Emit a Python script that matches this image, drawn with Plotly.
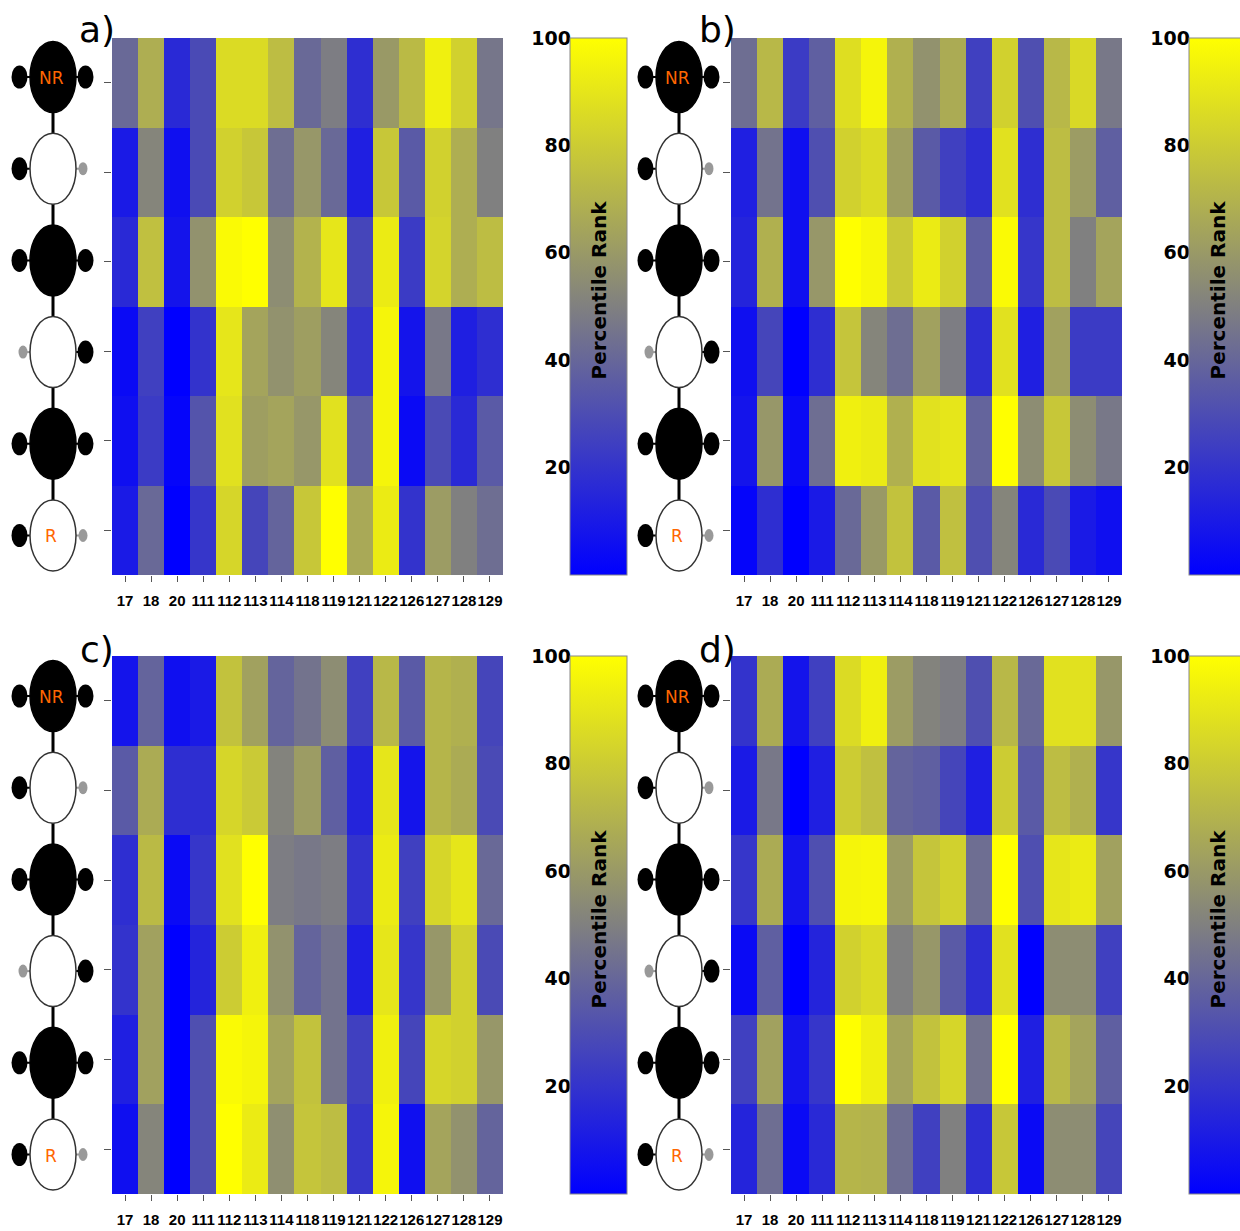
import plotly.graph_objects as go

W, H = 1240, 1231

positions = ["17", "18", "20", "111", "112", "113", "114", "118", "119",
             "121", "122", "126", "127", "128", "129"]
rows = [1, 2, 3, 4, 5, 6]
tick_values = [20, 40, 60, 80, 100]
panel_labels = ["a)", "b)", "c)", "d)"]
colorbar_title = "Percentile Rank"

panel_a = [
    [41, 68, 16, 29, 86, 86, 74, 41, 49, 18, 60, 73, 94, 82, 46],
    [10, 52, 6, 29, 82, 78, 43, 59, 41, 12, 78, 35, 82, 68, 50],
    [16, 75, 8, 57, 98, 100, 55, 70, 90, 27, 92, 23, 83, 68, 74],
    [4, 25, 0, 20, 90, 64, 57, 62, 52, 21, 96, 8, 47, 12, 18],
    [6, 23, 2, 33, 88, 62, 64, 59, 88, 37, 96, 4, 29, 16, 35],
    [10, 41, 0, 21, 84, 27, 39, 78, 100, 66, 92, 20, 61, 50, 43],
]
panel_b = [
    [43, 72, 23, 37, 87, 96, 69, 57, 67, 25, 82, 31, 72, 85, 47],
    [12, 45, 6, 31, 82, 86, 62, 35, 25, 18, 88, 18, 74, 61, 37],
    [14, 69, 6, 59, 100, 97, 79, 92, 82, 37, 98, 21, 74, 50, 64],
    [6, 27, 0, 18, 77, 52, 43, 63, 49, 18, 88, 12, 63, 23, 23],
    [8, 59, 4, 43, 94, 92, 69, 88, 90, 39, 100, 55, 78, 55, 47],
    [2, 18, 0, 10, 41, 60, 76, 35, 75, 31, 52, 16, 29, 10, 6],
]
panel_c = [
    [8, 39, 6, 10, 76, 63, 39, 45, 55, 25, 72, 35, 71, 69, 27],
    [35, 67, 18, 18, 84, 79, 51, 61, 37, 14, 90, 8, 71, 67, 29],
    [18, 73, 4, 21, 88, 100, 49, 47, 49, 20, 92, 25, 84, 90, 41],
    [20, 63, 0, 14, 80, 94, 57, 39, 45, 12, 90, 21, 59, 82, 29],
    [12, 63, 0, 31, 98, 96, 64, 76, 45, 25, 94, 27, 84, 82, 59],
    [6, 52, 0, 31, 100, 92, 56, 77, 74, 21, 96, 6, 64, 57, 39],
]
panel_d = [
    [20, 67, 8, 25, 86, 94, 61, 51, 49, 31, 72, 41, 88, 88, 59],
    [10, 47, 0, 12, 80, 75, 39, 37, 27, 12, 80, 35, 74, 69, 21],
    [21, 67, 8, 31, 96, 97, 61, 77, 82, 43, 100, 31, 90, 92, 63],
    [4, 37, 0, 14, 82, 86, 50, 59, 35, 18, 88, 0, 55, 55, 25],
    [25, 63, 8, 21, 100, 94, 64, 76, 84, 45, 100, 12, 72, 64, 37],
    [14, 43, 4, 16, 71, 70, 43, 25, 50, 18, 78, 4, 55, 55, 27],
]
panels = [panel_a, panel_b, panel_c, panel_d]

# diagram: oval fill per row, left/right side-group type per row
oval_fill = ["black", "white", "black", "white", "black", "white"]
left_group = ["big", "big", "big", "small", "big", "big"]
right_group = ["big", "small", "big", "big", "big", "small"]
oval_text = ["NR", "", "", "", "", "R"]

colorscale = [[0.0, "rgb(0,0,255)"], [0.5, "rgb(128,128,128)"], [1.0, "rgb(255,255,0)"]]


def px(x):
    return min(1.0, max(0.0, x / W))


def py(y):
    return min(1.0, max(0.0, 1 - y / H))


# pixel layout of each panel: heatmap box, colorbar box, diagram center
heat_boxes = [(112, 503, 38, 575), (731, 1122, 38, 575),
              (112, 503, 656, 1194), (731, 1122, 656, 1194)]
cbar_x = [570, 1189, 570, 1189]
cbar_w = 57
cbar_label_shift = 2
cbar_title_y = [290, 290, 919, 919]
diag_cx = [53, 679, 53, 679]
diag_y0 = [77, 77, 696, 696]
diag_step = 91.7
label_pos = [(97, 30), (717, 30), (97, 649), (717, 649)]

fig = go.Figure()
shapes = []
annotations = []
layout_axes = {}

tick_font = dict(family="Liberation Sans Narrow, Liberation Sans, Arial",
                 size=15, color="black", weight="bold")

for i, (z, box) in enumerate(zip(panels, heat_boxes)):
    n = i + 1
    xs = "" if n == 1 else str(n)
    x0, x1, y0, y1 = box
    fig.add_trace(go.Heatmap(
        z=z, x=positions, y=rows,
        colorscale=colorscale, zmin=0, zmax=100,
        xaxis="x" + xs, yaxis="y" + xs,
        colorbar=dict(
            x=px(cbar_x[i]), xanchor="left", xref="paper",
            y=py(y0), yanchor="top", yref="paper",
            thicknessmode="pixels", thickness=cbar_w,
            lenmode="pixels", len=y1 - y0,
            xpad=0, ypad=0,
            outlinecolor="#888888", outlinewidth=1,
            showticklabels=False, ticks="",
        ),
        hovertemplate="pos %{x}<br>row %{y}<br>%{z}<extra></extra>",
    ))
    layout_axes["xaxis" + xs] = dict(
        domain=[px(x0), px(x1)], anchor="y" + xs, type="category",
        ticks="outside", ticklen=6, tickcolor="#555555", tickwidth=1,
        tickangle=0, ticklabelstandoff=6,
        tickfont=tick_font, showgrid=False, zeroline=False, showline=False,
        fixedrange=True,
    )
    layout_axes["yaxis" + xs] = dict(
        domain=[py(y1), py(y0)], anchor="x" + xs,
        range=[6.5, 0.5], tickvals=rows, showticklabels=False,
        ticks="outside", ticklen=7, tickcolor="#555555", tickwidth=1,
        showgrid=False, zeroline=False, showline=False, fixedrange=True,
    )
    # axis carrying colorbar tick labels on the left side of the bar
    m = str(n + 4)
    fig.add_trace(go.Scatter(x=[], y=[], xaxis="x" + m, yaxis="y" + m,
                             showlegend=False, hoverinfo="skip"))
    layout_axes["xaxis" + m] = dict(
        domain=[px(cbar_x[i] + cbar_label_shift), px(cbar_x[i] + cbar_w)],
        anchor="y" + m, visible=False, range=[0, 1], fixedrange=True,
    )
    layout_axes["yaxis" + m] = dict(
        domain=[py(y1), py(y0)], anchor="x" + m, side="left",
        range=[0, 100], tickvals=tick_values, ticks="",
        tickfont=dict(family="DejaVu Sans", size=19, color="black", weight="bold"),
        showgrid=False, zeroline=False, showline=False, fixedrange=True,
    )
    # colorbar title inside the bar
    annotations.append(dict(
        x=px(cbar_x[i] + cbar_w / 2), y=py(cbar_title_y[i]),
        xref="paper", yref="paper", text=colorbar_title, textangle=-90,
        showarrow=False, xanchor="center", yanchor="middle",
        font=dict(family="DejaVu Sans", size=20, color="black", weight="bold"),
    ))
    # panel label
    lx, ly = label_pos[i]
    annotations.append(dict(
        x=px(lx), y=py(ly), xref="paper", yref="paper", text=panel_labels[i],
        showarrow=False, xanchor="center", yanchor="middle",
        font=dict(family="DejaVu Sans", size=36, color="black"),
    ))

    # ---- molecule diagram ----
    cx = diag_cx[i]
    cys = [diag_y0[i] + k * diag_step for k in range(len(rows))]
    ow, oh = 46, 71
    # backbone
    shapes.append(dict(type="line", xref="paper", yref="paper",
                       x0=px(cx), x1=px(cx), y0=py(cys[0]), y1=py(cys[-1]),
                       line=dict(color="black", width=3)))
    for k, cy in enumerate(cys):
        lg, rg = left_group[k], right_group[k]
        lxc = cx - (33.5 if lg == "big" else 30)
        rxc = cx + (32.5 if rg == "big" else 30)
        shapes.append(dict(type="line", xref="paper", yref="paper",
                           x0=px(lxc), x1=px(cx), y0=py(cy), y1=py(cy),
                           line=dict(color="black" if lg == "big" else "#999999", width=2)))
        shapes.append(dict(type="line", xref="paper", yref="paper",
                           x0=px(cx), x1=px(rxc), y0=py(cy), y1=py(cy),
                           line=dict(color="black" if rg == "big" else "#999999", width=2)))
        filled = oval_fill[k] == "black"
        shapes.append(dict(type="circle", xref="paper", yref="paper",
                           x0=px(cx - ow / 2), x1=px(cx + ow / 2),
                           y0=py(cy + oh / 2), y1=py(cy - oh / 2),
                           fillcolor="black" if filled else "white",
                           line=dict(color="black" if filled else "#333333", width=1.5)))
        for gx, g in ((lxc, lg), (rxc, rg)):
            if g == "big":
                dw, dh, col = 16, 23, "black"
            else:
                dw, dh, col = 9, 13, "#999999"
            shapes.append(dict(type="circle", xref="paper", yref="paper",
                               x0=px(gx - dw / 2), x1=px(gx + dw / 2),
                               y0=py(cy + dh / 2), y1=py(cy - dh / 2),
                               fillcolor=col, line=dict(color=col, width=0)))
        if oval_text[k]:
            annotations.append(dict(
                x=px(cx - 2), y=py(cy + 1), xref="paper", yref="paper",
                text=oval_text[k], showarrow=False,
                xanchor="center", yanchor="middle",
                font=dict(family="DejaVu Sans", size=17, color="#FF6600"),
            ))

fig.update_layout(
    width=W, height=H,
    margin=dict(l=0, r=0, t=0, b=0, autoexpand=False),
    paper_bgcolor="white", plot_bgcolor="white",
    showlegend=False,
    shapes=shapes, annotations=annotations,
    **layout_axes,
)

fig.write_html("out.html")
